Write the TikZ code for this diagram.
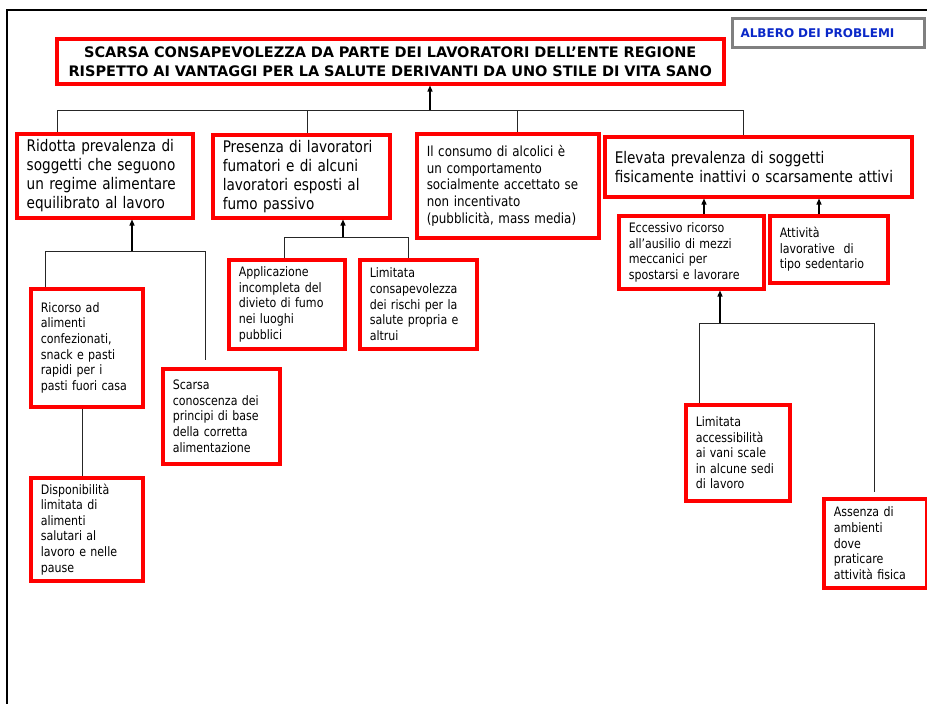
\documentclass[tikz,border=0pt]{standalone}
\usepackage{fontspec}
\setmainfont{DejaVu Sans}[FakeStretch=0.85]
\newfontfamily\titlefont{DejaVu Sans}
\usetikzlibrary{arrows.meta}
\definecolor{boxred}{RGB}{255,0,0}
\definecolor{albblue}{RGB}{10,40,200}
\begin{document}
\begin{tikzpicture}[x=1pt,y=-1pt,
 rbox/.style={draw=boxred, line width=3.5pt, fill=white, anchor=north west, align=left, inner xsep=10pt, inner ysep=0pt},
 big/.style={font=\fontsize{16}{19}\selectfont},
 mid/.style={font=\fontsize{14}{16.8}\selectfont},
 small/.style={font=\fontsize{13}{15.6}\selectfont},
 conn/.style={line width=0.9pt, draw=black!85},
 arr/.style={line width=1.3pt, draw=black, -{Triangle[length=6pt,width=5pt]}},
]
\useasboundingbox (0,0) rectangle (927,704);
\draw[line width=2pt] (927,10) -- (7,10) -- (7,704);

\node[draw=gray, line width=3pt, anchor=north west, minimum width=192pt, minimum height=29pt, text width=176pt, align=left, inner xsep=8pt, inner ysep=0pt, text=albblue, font=\titlefont\bfseries\fontsize{12}{14}\selectfont] (albero) at (731,17) {ALBERO DEI PROBLEMI};

\node[rbox, align=center, minimum width=667pt, minimum height=45pt, text width=647pt, font=\titlefont\bfseries\fontsize{14.5}{19}\selectfont] (title) at (55,37) {SCARSA CONSAPEVOLEZZA DA PARTE DEI LAVORATORI DELL’ENTE REGIONE\\RISPETTO AI VANTAGGI PER LA SALUTE DERIVANTI DA UNO STILE DI VITA SANO};

\node[rbox, big, minimum width=176pt, minimum height=84pt, text width=156pt] (b1) at (15,132) {Ridotta prevalenza di\\soggetti che seguono\\un regime alimentare\\equilibrato al lavoro};
\node[rbox, big, minimum width=177pt, minimum height=83pt, text width=157pt] (b2) at (211,133) {Presenza di lavoratori\\fumatori e di alcuni\\lavoratori esposti al\\fumo passivo};
\node[rbox, mid, minimum width=182pt, minimum height=104pt, text width=162pt] (b3) at (415,132) {Il consumo di alcolici è\\un comportamento\\socialmente accettato se\\non incentivato\\(pubblicità, mass media)};
\node[rbox, big, minimum width=307pt, minimum height=60pt, text width=287pt] (b4) at (603,135) {Elevata prevalenza di soggetti\\fisicamente inattivi o scarsamente attivi};

\node[rbox, small, minimum width=112pt, minimum height=118pt, text width=92pt] (c11) at (29,287) {Ricorso ad\\alimenti\\confezionati,\\snack e pasti\\rapidi per i\\pasti fuori casa};
\node[rbox, small, minimum width=117pt, minimum height=95pt, text width=97pt] (c12) at (161,367) {Scarsa\\conoscenza dei\\principi di base\\della corretta\\alimentazione};
\node[rbox, small, minimum width=112pt, minimum height=103pt, text width=92pt] (c13) at (29,476) {Disponibilità\\limitata di\\alimenti\\salutari al\\lavoro e nelle\\pause};
\node[rbox, small, minimum width=116pt, minimum height=89pt, text width=96pt] (c21) at (227,258) {Applicazione\\incompleta del\\divieto di fumo\\nei luoghi\\pubblici};
\node[rbox, small, minimum width=117pt, minimum height=89pt, text width=97pt] (c22) at (358,258) {Limitata\\consapevolezza\\dei rischi per la\\salute propria e\\altrui};
\node[rbox, small, minimum width=145pt, minimum height=73pt, text width=125pt] (c41) at (617,214) {Eccessivo ricorso\\all’ausilio di mezzi\\meccanici per\\spostarsi e lavorare};
\node[rbox, small, minimum width=118pt, minimum height=67pt, text width=98pt] (c42) at (768,214) {Attività\\lavorative\ \ di\\tipo sedentario};
\node[rbox, small, minimum width=104pt, minimum height=96pt, text width=84pt] (d1) at (684,403) {Limitata\\accessibilità\\ai vani scale\\in alcune sedi\\di lavoro};
\node[rbox, small, minimum width=103pt, minimum height=89pt, text width=83pt] (d2) at (822,497) {Assenza di\\ambienti\\dove\\praticare\\attività fisica};

% level 1 bus
\coordinate (j0) at (430,110);
\coordinate (h1) at (57,110);
\coordinate (h2) at (307,110);
\coordinate (h3) at (517,110);
\coordinate (h4) at (743,110);
\draw[conn] (h1 |- b1.north) -- (h1) -- (h4) -- (h4 |- b4.north);
\draw[conn] (h2) -- (h2 |- b2.north);
\draw[conn] (h3) -- (h3 |- b3.north);
\draw[arr] (j0) -- (j0 |- title.south);

% group b1
\coordinate (g1) at (132,251);
\coordinate (g1a) at (45,251);
\coordinate (g1b) at (205,251);
\draw[arr] (g1) -- (g1 |- b1.south);
\draw[conn, shorten >=7pt] (g1a |- c11.north) -- (g1a) -- (g1b) -- (g1b |- c12.north);
\coordinate (k1) at (82,0);
\draw[conn] (k1 |- c11.south) -- (k1 |- c13.north);

% group b2
\coordinate (g2) at (343,237);
\coordinate (g2a) at (284,237);
\coordinate (g2b) at (408,237);
\draw[arr] (g2) -- (g2 |- b2.south);
\draw[conn] (g2a |- c21.north) -- (g2a) -- (g2b) -- (g2b |- c22.north);

% group b4
\coordinate (k4a) at (704,0);
\coordinate (k4b) at (819,0);
\draw[arr] (k4a |- c41.north) -- (k4a |- b4.south);
\draw[arr] (k4b |- c42.north) -- (k4b |- b4.south);

% group c41
\coordinate (g4) at (720,323);
\coordinate (g4a) at (699,323);
\coordinate (g4b) at (874,323);
\draw[arr] (g4) -- (g4 |- c41.south);
\draw[conn, shorten >=5pt] (g4a |- d1.north) -- (g4a) -- (g4b) -- (g4b |- d2.north);
\end{tikzpicture}
\end{document}
